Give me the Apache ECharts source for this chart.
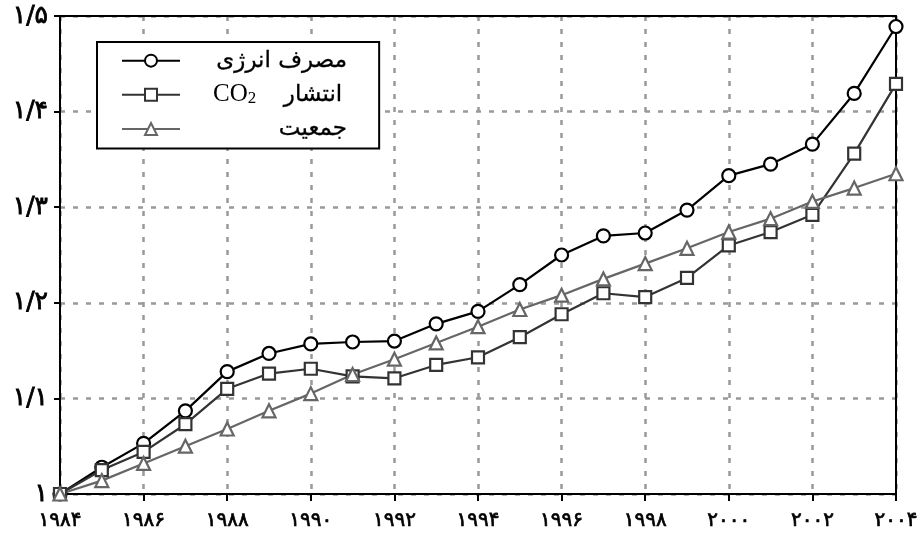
<!DOCTYPE html>
<html>
<head>
<meta charset="utf-8">
<script src="https://cdn.jsdelivr.net/npm/echarts@6/dist/echarts.min.js"></script>
<style>html,body{margin:0;padding:0;background:#fff}#c{width:924px;height:535px}</style>
</head>
<body>
<div id="c"></div>
<script>
var years = [1984,1985,1986,1987,1988,1989,1990,1991,1992,1993,1994,1995,1996,1997,1998,1999,2000,2001,2002,2003,2004];
var energy = [1.000,1.028,1.053,1.087,1.128,1.147,1.157,1.159,1.160,1.178,1.191,1.219,1.250,1.270,1.273,1.297,1.333,1.345,1.366,1.419,1.489];
var co2 = [1.000,1.025,1.044,1.073,1.110,1.126,1.131,1.123,1.121,1.135,1.143,1.164,1.188,1.210,1.206,1.226,1.260,1.274,1.292,1.356,1.429];
var population = [1.000,1.014,1.032,1.050,1.068,1.087,1.105,1.125,1.141,1.158,1.175,1.193,1.208,1.225,1.241,1.257,1.274,1.288,1.306,1.320,1.335];
var seriesNames = ['مصرف انرژی', 'انتشار CO2', 'جمعیت'];
var yTickLabels = ['۱','۱/۱','۱/۲','۱/۳','۱/۴','۱/۵'];
var xTickLabels = ['۱۹۸۴','۱۹۸۶','۱۹۸۸','۱۹۹۰','۱۹۹۲','۱۹۹۴','۱۹۹۶','۱۹۹۸','۲۰۰۰','۲۰۰۲','۲۰۰۴'];

function pairs(vals){ return years.map(function(y,i){ return [y, vals[i]]; }); }

var chart = echarts.init(document.getElementById('c'));
var fontAr = '"DejaVu Sans", sans-serif';
function mkSeries(name, vals, color, symbol, size){
  return {
    name: name, type: 'line', data: pairs(vals),
    symbol: symbol, symbolSize: size, showSymbol: true,
    lineStyle: {color: color, width: 2.2},
    itemStyle: {color: '#fff', borderColor: color, borderWidth: 2.2},
    emphasis: {disabled: true}, animation: false, z: 5
  };
}
var gridLine = {show: true, lineStyle: {color: '#999', width: 2.5, type: [5,8]}};
chart.setOption({
  animation: false,
  backgroundColor: '#fff',
  grid: {left: 60, right: 28, top: 16, bottom: 41, show: false},
  xAxis: [{
    type: 'value', min: 1984, max: 2004, interval: 2,
    axisLine: {show: true, lineStyle: {color: '#000', width: 2}},
    axisTick: {show: true, inside: false, length: 7, lineStyle: {color: '#000', width: 2}},
    axisLabel: {margin: 17, color: '#000', fontSize: 20, fontFamily: fontAr,
      textBorderColor: '#000', textBorderWidth: 0.7,
      formatter: function(v){ return xTickLabels[Math.round((v-1984)/2)]; }},
    splitLine: gridLine
  }, {
    type: 'value', position: 'top', min: 1984, max: 2004, interval: 2,
    axisLine: {show: true, lineStyle: {color: '#000', width: 2}},
    axisTick: {show: false}, axisLabel: {show: false}, splitLine: {show: false}
  }],
  yAxis: [{
    type: 'value', min: 1, max: 1.5, interval: 0.1,
    axisLine: {show: true, lineStyle: {color: '#000', width: 2}},
    axisTick: {show: true, inside: false, length: 6, lineStyle: {color: '#000', width: 2}},
    axisLabel: {margin: 12, color: '#000', fontSize: 25, fontFamily: fontAr,
      textBorderColor: '#000', textBorderWidth: 0.8,
      formatter: function(v){ return yTickLabels[Math.round((v-1)*10)]; }},
    splitLine: gridLine
  }, {
    type: 'value', position: 'right', min: 1, max: 1.5, interval: 0.1,
    axisLine: {show: true, lineStyle: {color: '#000', width: 2}},
    axisTick: {show: false}, axisLabel: {show: false}, splitLine: {show: false}
  }],
  legend: {
    orient: 'vertical', left: 97, top: 42,
    padding: [7, 32, 8, 24],
    backgroundColor: '#fff', borderColor: '#000', borderWidth: 2,
    itemWidth: 58, itemHeight: 15, itemGap: 10,
    selectedMode: false,
    data: seriesNames,
    formatter: function(name){
      if (name === seriesNames[1]) return '{co|CO}{sub|2}{t2|انتشار}';
      return '{t|' + name + '}';
    },
    textStyle: {
      color: '#000',
      rich: {
        t: {width: 162, align: 'right', fontSize: 23, fontFamily: fontAr, lineHeight: 22, color: '#000', textBorderColor: '#000', textBorderWidth: 0.3},
        co: {fontSize: 25, fontFamily: '"Liberation Serif", serif', padding: [0,0,0,28], lineHeight: 22, color: '#000'},
        sub: {fontSize: 17, fontFamily: '"Liberation Serif", serif', lineHeight: 22, padding: [8,0,0,0], color: '#000'},
        t2: {width: 86, align: 'right', fontSize: 23, fontFamily: fontAr, lineHeight: 22, color: '#000', textBorderColor: '#000', textBorderWidth: 0.3}
      }
    }
  },
  series: [
    mkSeries(seriesNames[0], energy, '#000', 'circle', 13),
    mkSeries(seriesNames[1], co2, '#333', 'rect', 12),
    mkSeries(seriesNames[2], population, '#666', 'triangle', 13)
  ]
});
</script>
</body>
</html>
